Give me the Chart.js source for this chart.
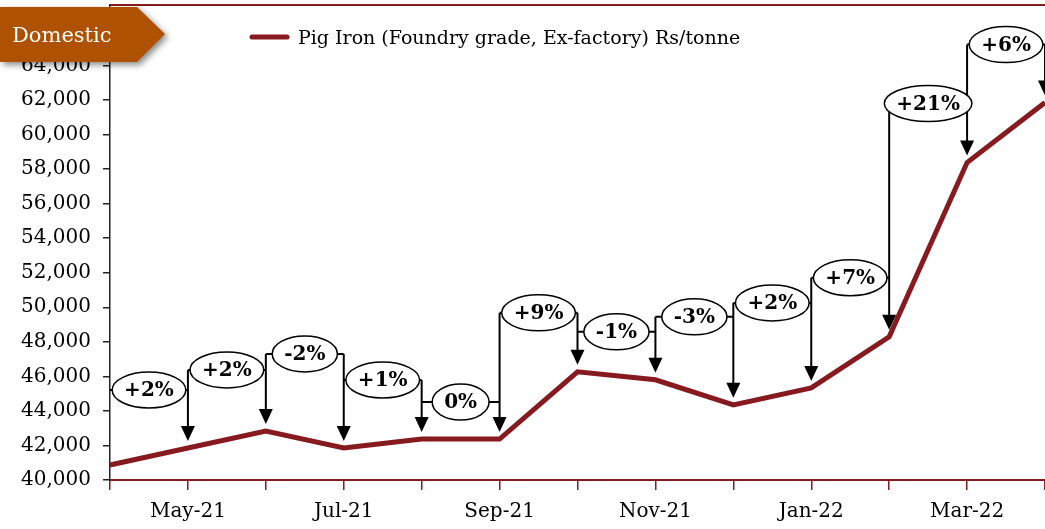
<!DOCTYPE html>
<html>
<head>
<meta charset="utf-8">
<script src="https://cdn.jsdelivr.net/npm/chart.js@4.4.1/dist/chart.umd.min.js"></script>
<style>
    html, body { margin: 0; padding: 0; background: #fff; }
    #wrap { width: 1045px; height: 529px; position: relative; }
</style>
</head>
<body>
<div id="wrap"><canvas id="pigChart" width="1045" height="529"></canvas></div>
<script>
const months = ['Apr-21', 'May-21', 'Jun-21', 'Jul-21', 'Aug-21', 'Sep-21', 'Oct-21',
    'Nov-21', 'Dec-21', 'Jan-22', 'Feb-22', 'Mar-22', 'Apr-22'];
const pigIron = [40870, 41850, 42840, 41850, 42370, 42370, 46260, 45800, 44350, 45330, 48290, 58380, 61850];
const changeLabels = ['+2%', '+2%', '-2%', '+1%', '0%', '+9%', '-1%', '-3%', '+2%', '+7%', '+21%', '+6%'];
const yTickValues = [40000, 42000, 44000, 46000, 48000, 50000, 52000, 54000, 56000, 58000, 60000, 62000, 64000, 66000];

const seriesName = 'Pig Iron (Foundry grade, Ex-factory) Rs/tonne';
const RED = '#861a1e';
const SERIF = '"DejaVu Serif", "Liberation Serif", serif';

// how far (px) each bubble sits above the higher of its two points
const bubbleLift = [58, 61, 77, 59, 37, 59, 40, 63, 85, 59, 59, 58];

const framePlugin = {
    id: 'frame',
    beforeDatasetsDraw(chart) {
        const { ctx, chartArea: a } = chart;
        ctx.save();
        ctx.strokeStyle = RED;
        ctx.lineWidth = 2;
        ctx.beginPath();
        ctx.moveTo(a.left, a.top);
        ctx.lineTo(a.right, a.top);
        ctx.stroke();
        ctx.restore();
    }
};

const bubblePlugin = {
    id: 'bubbles',
    afterDatasetsDraw(chart) {
        const ctx = chart.ctx;
        const xs = chart.scales.x, ys = chart.scales.y;
        const px = i => xs.getPixelForValue(i);
        const py = i => ys.getPixelForValue(pigIron[i]);
        const level = changeLabels.map((t, k) => Math.min(py(k), py(k + 1)) - bubbleLift[k]);

        ctx.save();
        ctx.strokeStyle = '#000';
        ctx.fillStyle = '#000';
        ctx.lineWidth = 2;

        level.forEach((h, k) => {
            ctx.beginPath();
            ctx.moveTo(px(k), h);
            ctx.lineTo(px(k + 1), h);
            ctx.stroke();
        });

        for (let j = 1; j < pigIron.length; j++) {
            const top = j < level.length ? Math.min(level[j - 1], level[j]) : level[j - 1];
            const tip = py(j) - 7;
            const x = px(j);
            ctx.beginPath();
            ctx.moveTo(x, top);
            ctx.lineTo(x, tip - 12);
            ctx.stroke();
            ctx.beginPath();
            ctx.moveTo(x - 7, tip - 15);
            ctx.lineTo(x + 7, tip - 15);
            ctx.lineTo(x, tip);
            ctx.closePath();
            ctx.fill();
        }

        ctx.font = 'bold 20px ' + SERIF;
        ctx.textAlign = 'center';
        ctx.textBaseline = 'middle';
        ctx.lineWidth = 1.5;
        level.forEach((h, k) => {
            const cx = (px(k) + px(k + 1)) / 2;
            const w = ctx.measureText(changeLabels[k]).width + 24;
            ctx.beginPath();
            ctx.ellipse(cx, h, w / 2, 18, 0, 0, Math.PI * 2);
            ctx.fillStyle = '#fff';
            ctx.fill();
            ctx.stroke();
            ctx.fillStyle = '#000';
            ctx.fillText(changeLabels[k], cx, h + 1);
        });
        ctx.restore();
    },
    afterDraw(chart) {
        const ctx = chart.ctx;
        ctx.save();

        // legend
        ctx.strokeStyle = RED;
        ctx.lineWidth = 5;
        ctx.lineCap = 'round';
        ctx.beginPath();
        ctx.moveTo(252, 37);
        ctx.lineTo(287, 37);
        ctx.stroke();
        ctx.fillStyle = '#000';
        ctx.font = '19px ' + SERIF;
        ctx.textBaseline = 'middle';
        ctx.fillText(seriesName, 298, 39);

        // "Domestic" tag
        ctx.shadowColor = 'rgba(0,0,0,0.45)';
        ctx.shadowBlur = 6;
        ctx.shadowOffsetX = 3;
        ctx.shadowOffsetY = 3;
        ctx.fillStyle = '#ae5100';
        ctx.beginPath();
        ctx.moveTo(0, 7);
        ctx.lineTo(137, 7);
        ctx.lineTo(165, 34);
        ctx.lineTo(137, 62);
        ctx.lineTo(0, 62);
        ctx.closePath();
        ctx.fill();
        ctx.shadowColor = 'transparent';
        ctx.fillStyle = '#fff';
        ctx.font = '21px ' + SERIF;
        ctx.fillText('Domestic', 12, 37);
        ctx.restore();
    }
};

document.addEventListener('DOMContentLoaded', () => {
    new Chart(document.getElementById('pigChart').getContext('2d'), {
        type: 'line',
        data: {
            labels: months,
            datasets: [{
                label: seriesName,
                data: pigIron,
                borderColor: RED,
                borderWidth: 5,
                pointRadius: 0,
                tension: 0,
                fill: false
            }]
        },
        options: {
            responsive: false,
            animation: false,
            layout: { padding: { top: 5, right: 0, bottom: 0, left: 0 } },
            plugins: { legend: { display: false }, tooltip: { enabled: false } },
            scales: {
                x: {
                    offset: false,
                    afterFit: scale => {
                        scale.height = 49;
                        scale.paddingLeft = 0;
                        scale.paddingRight = 0;
                    },
                    grid: { drawOnChartArea: false, tickLength: 10, color: RED, lineWidth: 1.5 },
                    border: { color: RED, width: 2 },
                    ticks: {
                        autoSkip: false,
                        maxRotation: 0,
                        padding: 10,
                        color: '#000',
                        font: { family: SERIF, size: 20 },
                        callback: (v, i) => (i % 2 === 1 ? months[i] : '')
                    }
                },
                y: {
                    min: 40000,
                    max: 67500,
                    afterBuildTicks: scale => { scale.ticks = yTickValues.map(v => ({ value: v })); },
                    afterFit: scale => {
                        scale.width = 110;
                        scale.paddingTop = 0;
                        scale.paddingBottom = 0;
                    },
                    grid: { drawOnChartArea: false, tickLength: 7, color: '#222', lineWidth: 1.5 },
                    border: { color: '#222', width: 1.5 },
                    ticks: {
                        padding: 12,
                        color: '#000',
                        font: { family: SERIF, size: 20 },
                        callback: v => v.toLocaleString('en-US')
                    }
                }
            }
        },
        plugins: [framePlugin, bubblePlugin]
    });
});
</script>
</body>
</html>
